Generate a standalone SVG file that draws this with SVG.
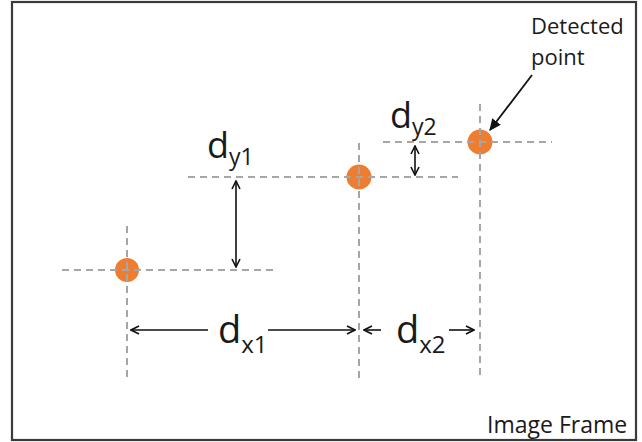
<svg xmlns="http://www.w3.org/2000/svg" width="642" height="442" viewBox="0 0 642 442">
  <style>
    .frame { fill: #ffffff; stroke: #3a3a3a; stroke-width: 2.2; }
    .pt { fill: #ED7D31; }
    .guide { stroke: #A6A6A6; stroke-width: 2; stroke-dasharray: 7 5; fill: none; }
    .dim { stroke: #111111; stroke-width: 1.6; fill: none; marker-start: url(#open); marker-end: url(#open); }
    .lead { stroke: #111111; stroke-width: 1.8; fill: none; marker-end: url(#solid); }
    .lbl { font-family: "Open Sans", "Liberation Sans", sans-serif; fill: #1a1a1a; }
  </style>
  <defs>
    <marker id="open" viewBox="0 0 10 10" refX="9" refY="5" markerWidth="10" markerHeight="10" markerUnits="userSpaceOnUse" orient="auto-start-reverse">
      <path d="M1,1 L9,5 L1,9" fill="none" stroke="#111111" stroke-width="1.6"/>
    </marker>
    <marker id="solid" viewBox="0 0 10 10" refX="9" refY="5" markerWidth="12" markerHeight="12" markerUnits="userSpaceOnUse" orient="auto">
      <path d="M0,0.5 L10,5 L0,9.5 Z" fill="#111111"/>
    </marker>
  </defs>

  <!-- image frame -->
  <rect class="frame" x="12" y="2" width="624" height="438"/>

  <!-- detected points -->
  <g id="point1"><circle class="pt" cx="127" cy="270" r="12"/></g>
  <g id="point2"><circle class="pt" cx="359" cy="177" r="12.5"/></g>
  <g id="point3"><circle class="pt" cx="480" cy="142" r="12.5"/></g>

  <!-- guide lines through the points -->
  <g id="guides">
    <line class="guide" x1="62" y1="270" x2="274" y2="270"/>
    <line class="guide" x1="188" y1="177" x2="458" y2="177"/>
    <line class="guide" x1="383" y1="142" x2="552" y2="142"/>
    <line class="guide" x1="127" y1="226" x2="127" y2="380"/>
    <line class="guide" x1="359" y1="143" x2="359" y2="380"/>
    <line class="guide" x1="480" y1="104" x2="480" y2="380"/>
  </g>

  <!-- dimension arrows and pointer -->
  <g id="connectors">
    <line class="dim" x1="236" y1="181" x2="236" y2="267"/>
    <line class="dim" x1="415" y1="146" x2="415" y2="175"/>
    <line class="dim" x1="131" y1="330" x2="208" y2="330" style="marker-end:none"/>
    <line class="dim" x1="268" y1="330" x2="355" y2="330" style="marker-start:none"/>
    <line class="dim" x1="364" y1="330" x2="381" y2="330" style="marker-end:none"/>
    <line class="dim" x1="449" y1="330" x2="474" y2="330" style="marker-start:none"/>
    <line class="lead" x1="532" y1="75" x2="490" y2="130"/>
  </g>

  <!-- labels -->
  <g id="label-dy1"><text class="lbl" x="207" y="158" font-size="36">d<tspan font-size="23" dy="7">y1</tspan></text></g>
  <g id="label-dy2"><text class="lbl" x="390" y="128" font-size="36">d<tspan font-size="23" dy="7">y2</tspan></text></g>
  <g id="label-dx1"><text class="lbl" x="218" y="343" font-size="38">d<tspan font-size="24" dy="10">x1</tspan></text></g>
  <g id="label-dx2"><text class="lbl" x="396" y="343" font-size="38">d<tspan font-size="24" dy="10">x2</tspan></text></g>
  <g id="label-detected"><text class="lbl" x="531" y="34" font-size="22">Detected</text><text class="lbl" x="531" y="65" font-size="22">point</text></g>
  <g id="label-frame"><text class="lbl" x="487" y="433" font-size="23">Image Frame</text></g>
</svg>
